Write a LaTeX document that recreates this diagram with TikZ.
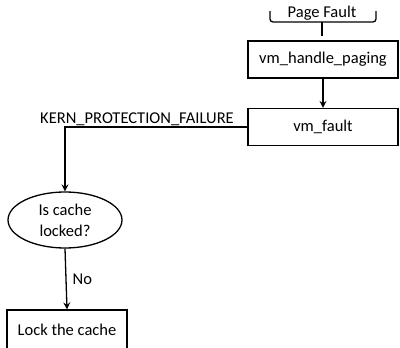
\documentclass[tikz,border=0pt]{standalone}
\usepackage{fontspec}
\setmainfont{Carlito}
\usetikzlibrary{shapes.geometric,arrows.meta}
\begin{document}
\begin{tikzpicture}[x=1pt,y=-1pt,
  every node/.style={font=\fontsize{16.5}{21}\selectfont, inner sep=0pt},
  box/.style={draw, line width=1.3pt, minimum width=#1, minimum height=37pt},
  decision/.style={draw, ellipse, line width=1.3pt, minimum width=114pt, minimum height=56pt, align=center},
  flow/.style={line width=1.3pt, -{Stealth[length=7pt,width=7pt,inset=2.5pt]}}]
\useasboundingbox (0,0) rectangle (400,348);
\clip (0,0) rectangle (400,348);
% entry point with its brace
\node (pf) at (322,13) {Page Fault};
\draw[line width=1.3pt, rounded corners=3pt] (270,11) -- (270,22) -- (376,22) -- (376,11);
\coordinate (tipTop) at (322,22);
\coordinate (tipEnd) at (322,36);
\draw[line width=1.3pt] (tipTop) -- (tipEnd);
% handler chain
\node[box=150pt] (hp) at (323,59.5) {vm\_handle\_paging};
\node[box=150pt] (vf) at (323,127) {vm\_fault};
\draw[flow] (hp) -- (vf);
% protection failure branch
\node[decision] (cache) at (65,220) {Is cache\\locked?};
\draw[flow] (vf.west) -| (cache.north);
\node (kern) at (137,119) {KERN\_PROTECTION\_FAILURE};
\node[box=120pt, minimum height=40pt] (lock) at (67,330) {Lock the cache};
\draw[flow] (cache.south) -- (lock.north) node[midway, right=6pt] (no) {No};
\end{tikzpicture}
\end{document}
